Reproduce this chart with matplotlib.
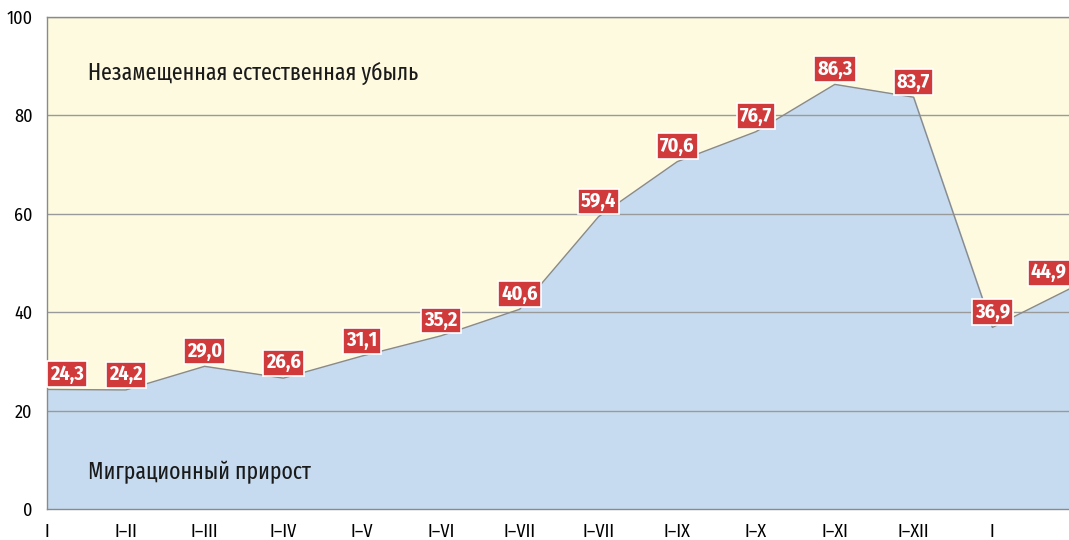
import numpy as np
import matplotlib.pyplot as plt

plt.rcParams['font.family'] = ['Fira Sans Condensed', 'DejaVu Sans']

periods = ["I", "I–II", "I–III", "I–IV", "I–V", "I–VI", "I–VII", "I–VII",
           "I–IX", "I–X", "I–XI", "I–XII", "I", "I"]
values = [24.3, 24.2, 29.0, 26.6, 31.1, 35.2, 40.6, 59.4,
          70.6, 76.7, 86.3, 83.7, 36.9, 44.9]
value_labels = ["24,3", "24,2", "29,0", "26,6", "31,1", "35,2", "40,6", "59,4",
                "70,6", "76,7", "86,3", "83,7", "36,9", "44,9"]
y_ticks = [0, 20, 40, 60, 80, 100]

x = np.arange(len(values))

fig = plt.figure(figsize=(10.69, 5.40), dpi=100)
ax = fig.add_axes([47/1069, 1 - 509/540, 1 - 47/1069 + 0.002, (509 - 17)/540])
ax.set_facecolor("#fefadf")

# площадь миграционного прироста
ax.fill_between(x, 0, values, color="#c6dbf0", zorder=1)
ax.plot(x, values, color="#8a8a8a", lw=1.0, zorder=3)

for t in y_ticks[1:]:
    ax.axhline(t, color="#9a9a9a", lw=1.0, zorder=2)

ax.set_xlim(0, len(values) - 1)
ax.set_ylim(0, 100)
ax.set_yticks(y_ticks)
ax.set_xticks(x)
ax.set_xticklabels(periods)
ax.tick_params(axis="both", length=0, labelsize=13)
ax.tick_params(axis="y", pad=10.5)
ax.tick_params(axis="x", pad=10)

for side in ["left", "bottom", "top"]:
    ax.spines[side].set_color("#8a8a8a")
    ax.spines[side].set_linewidth(1.0)
ax.spines["right"].set_visible(False)

n = len(values)
for i, (v, lab) in enumerate(zip(values, value_labels)):
    if i == 0:
        ha, dx = "left", 2
    elif i == n - 1:
        ha, dx = "right", -3
    else:
        ha, dx = "center", 0
    ax.annotate(lab, (x[i], v), xytext=(dx, 4), textcoords="offset points",
                ha=ha, va="bottom", color="white", fontsize=14.5, fontweight="bold",
                bbox=dict(boxstyle="square,pad=0.16", fc="#d03a3a", ec="white", lw=1.2),
                zorder=5, annotation_clip=False)

narrow = ["Fira Sans Extra Condensed", "DejaVu Sans"]
ax.text(0.52, 88.5, "Незамещенная естественная убыль", fontsize=17, color="#1a1a1a",
        family=narrow, ha="left", va="center", zorder=4)
ax.text(0.52, 7.5, "Миграционный прирост", fontsize=17, color="#1a1a1a",
        family=narrow, ha="left", va="center", zorder=4)

fig.savefig("out.png", dpi=100)
